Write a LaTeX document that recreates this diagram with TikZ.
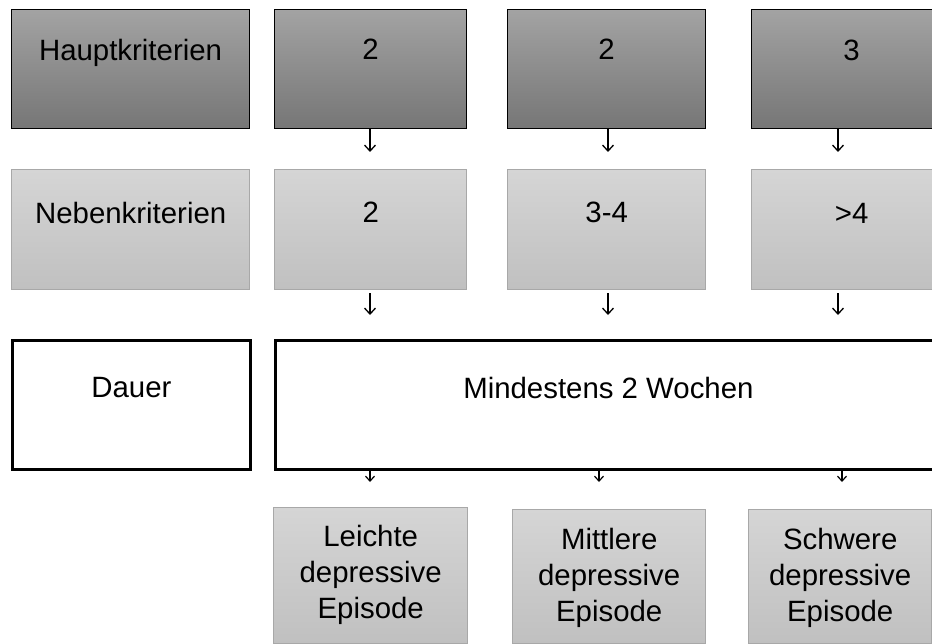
\documentclass[tikz,border=0pt]{standalone}
\usepackage{fontspec}
\setmainfont{Liberation Sans}
\usetikzlibrary{positioning,arrows.meta}

\definecolor{darktop}{HTML}{A3A3A3}
\definecolor{darkbot}{HTML}{767676}
\definecolor{lighttop}{HTML}{D5D5D5}
\definecolor{lightbot}{HTML}{C0C0C0}
\definecolor{lightline}{HTML}{A8A8A8}

\begin{document}
\begin{tikzpicture}[
  x=1bp, y=-1bp,
  cell/.style={anchor=north west, inner sep=0pt},
  dark/.style={cell, draw=black, line width=1.1bp, top color=darktop, bottom color=darkbot},
  light/.style={cell, draw=lightline, line width=1.4bp, top color=lighttop, bottom color=lightbot},
  frame/.style={cell, draw=black, line width=2.8bp, fill=white},
  txt/.style={inner sep=0pt, align=center, font=\fontsize{29.5}{36}\selectfont},
  arr/.style={-{Straight Barb[length=6bp,width=11bp]}, line width=1.3bp},
  arrs/.style={-{Straight Barb[length=5bp,width=9bp]}, line width=1.2bp},
]
\path[use as bounding box, clip] (0,0) rectangle (932,644);

% Hauptkriterien
\node[dark, minimum width=238bp, minimum height=119bp] (hk) at (11,9) {};
\node[dark, minimum width=192bp, minimum height=119bp] (h1) at (274,9) {};
\node[dark, minimum width=198bp, minimum height=119bp] (h2) at (507,9) {};
\node[dark, minimum width=200bp, minimum height=119bp] (h3) at (751,9) {};
\node[txt, below=30bp of hk.north] (hk-t) {Hauptkriterien};
\node[txt, below=30bp of h1.north] (h1-t) {2};
\node[txt, below=30bp of h2.north] (h2-t) {2};
\node[txt, below=31bp of h3.north] (h3-t) {3};

% Nebenkriterien
\node[light, minimum width=238bp, minimum height=120bp] (nk) at (11,169) {};
\node[light, minimum width=192bp, minimum height=120bp] (n1) at (274,169) {};
\node[light, minimum width=198bp, minimum height=120bp] (n2) at (507,169) {};
\node[light, minimum width=200bp, minimum height=120bp] (n3) at (751,169) {};
\node[txt, below=33bp of nk.north] (nk-t) {Nebenkriterien};
\node[txt, below=33bp of n1.north] (n1-t) {2};
\node[txt, below=33bp of n2.north] (n2-t) {3-4};
\node[txt, below=34bp of n3.north] (n3-t) {>4};

% Dauer
\node[frame, minimum width=238bp, minimum height=129bp] (dauer) at (11,339) {};
\node[frame, minimum width=666bp, minimum height=129bp] (mind) at (274,339) {};
\node[txt, below=38bp of dauer.north] (dauer-t) {Dauer};
\node[txt, below=38bp of mind.north] (mind-t) {Mindestens 2 Wochen};

% Episoden
\node[light, minimum width=194bp, minimum height=136bp] (ep1) at (273,507) {};
\node[light, minimum width=193bp, minimum height=134bp] (ep2) at (512,509) {};
\node[light, minimum width=183bp, minimum height=134bp] (ep3) at (748,509) {};
\node[txt, below=18bp of ep1.north] (ep1-t) {Leichte\\depressive\\Episode};
\node[txt, below=19bp of ep2.north] (ep2-t) {Mittlere\\depressive\\Episode};
\node[txt, below=19bp of ep3.north] (ep3-t) {Schwere\\depressive\\Episode};

% arrow ends
\coordinate (p1) at (370,152);
\coordinate (p2) at (608,152);
\coordinate (p3) at (838,152);
\coordinate (q1) at (370,315);
\coordinate (q2) at (608,315);
\coordinate (q3) at (838,315);
\coordinate (r1) at (370,482);
\coordinate (r2) at (599,482);
\coordinate (r3) at (842,482);

\draw[arr] (h1.south -| p1) -- (p1);
\draw[arr] (h2.south -| p2) -- (p2);
\draw[arr] (h3.south -| p3) -- (p3);
\draw[arr, shorten <=3bp] (n1.south -| q1) -- (q1);
\draw[arr, shorten <=3bp] (n2.south -| q2) -- (q2);
\draw[arr, shorten <=3bp] (n3.south -| q3) -- (q3);
\draw[arrs] (mind.south -| r1) -- (r1);
\draw[arrs] (mind.south -| r2) -- (r2);
\draw[arrs] (mind.south -| r3) -- (r3);
\end{tikzpicture}
\end{document}
